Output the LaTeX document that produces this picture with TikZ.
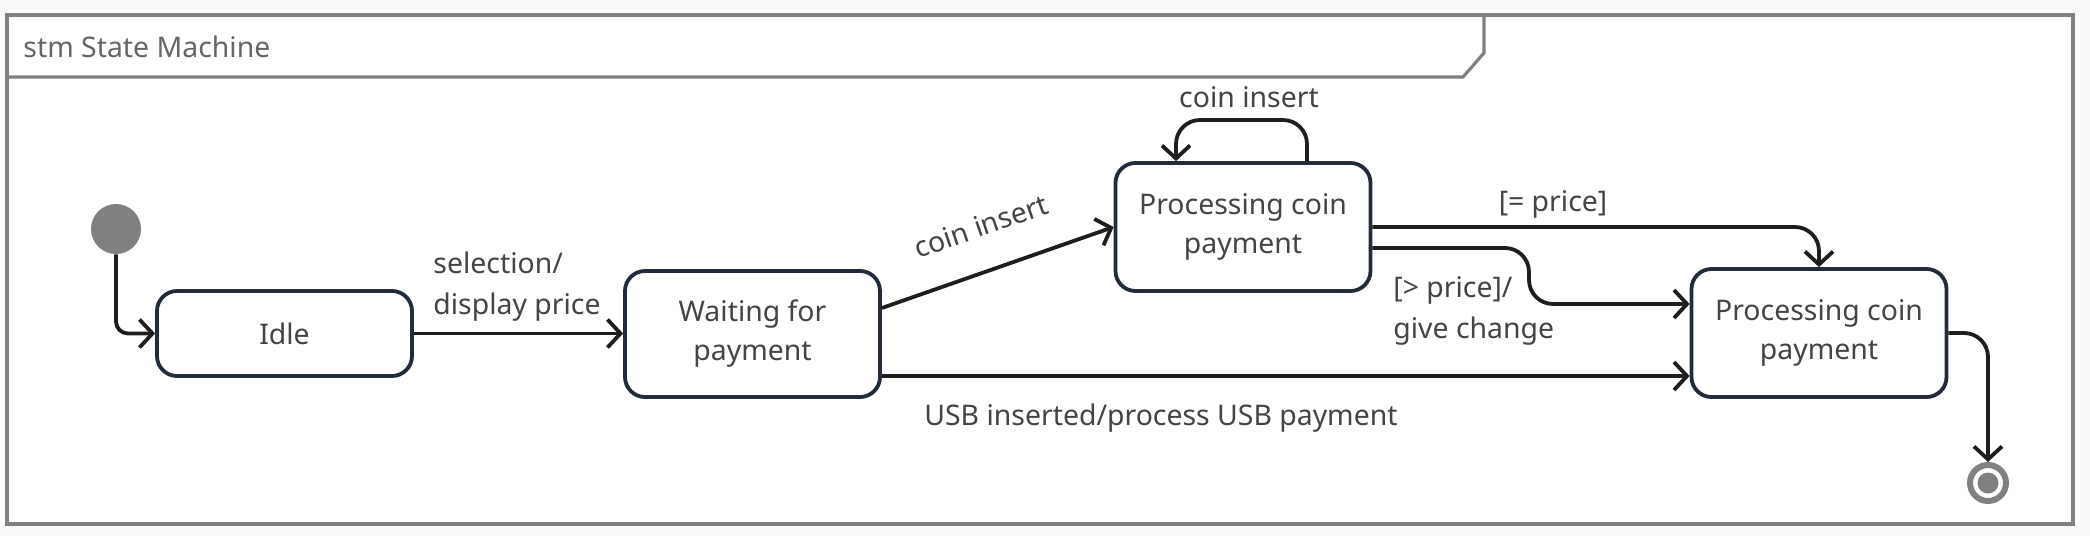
\documentclass[tikz,border=0pt]{standalone}
\usepackage{fontspec}
\setmainfont{Noto Sans}
\usetikzlibrary{arrows.meta,calc}
\definecolor{bgc}{HTML}{F8F9FB}
\definecolor{framec}{HTML}{808080}
\definecolor{statec}{HTML}{222B3A}
\definecolor{linec}{HTML}{1E1E1E}
\definecolor{txtc}{HTML}{444444}
\definecolor{titlec}{HTML}{666666}
\tikzset{
  statebox/.style={draw=statec, line width=1.9pt, fill=white, rounded corners=10pt,
    minimum width=127.5pt, align=center, text=txtc, font=\fontsize{14.2}{19.5}\selectfont},
  trans/.style={draw=linec, line width=1.9pt, rounded corners=6pt,
    -{Straight Barb[length=6.5pt,width=14pt,line width=1.9pt]}},
  lbl/.style={text=txtc, font=\fontsize{14.2}{20.5}\selectfont, align=left, inner sep=0pt},
}
\begin{document}
\begin{tikzpicture}[x=0.5pt,y=-0.5pt]
\useasboundingbox (0,0) rectangle (2090,536);
\fill[bgc] (0,0) rectangle (2090,536);
% frame
\draw[framec, line width=1.6pt, fill=white] (7,15) rectangle (2073,524);
\draw[framec, line width=1.6pt] (7,77) -- (1463,77) -- (1484,53) -- (1484,15);
\node[anchor=west, text=titlec, font=\fontsize{14.2}{16}\selectfont, inner sep=0pt] (title) at (23,47) {stm State Machine};
% states
\node[circle, fill=framec, minimum size=25pt, inner sep=0pt] (init) at (116,229) {};
\node[statebox, minimum height=42.5pt] (idle) at (284.5,333.5) {Idle};
\node[statebox, minimum height=63pt] (wait) at (752.5,334) {Waiting for\\payment};
\node[statebox, minimum height=64pt] (p1) at (1243,227) {Processing coin\\payment};
\node[statebox, minimum height=64pt] (p2) at (1819,333) {Processing coin\\payment};
\node[circle, draw=framec, line width=3pt, minimum size=18pt, inner sep=0pt] (fin) at (1988,483) {};
\node[circle, fill=framec, minimum size=10.5pt, inner sep=0pt] (finin) at (fin.center) {};
% transitions
\draw[trans] (init.south) |- (idle.west);
\draw[trans] (idle.east) -- (wait.west |- idle.east);
\node[lbl, anchor=south west] (l1) at (433,322) {selection/\\display price};
\draw[trans, rounded corners=0pt] (wait.east |- 0,308) -- (p1.west |- 0,227);
\node[lbl, rotate=19] (l2) at (981,226) {coin insert};
\draw[trans, rounded corners=12pt] (p1.north -| 1307,0) |- (1176,120) -- (p1.north -| 1176,0);
\node[lbl] (l3) at (1249,97) {coin insert};
\draw[trans, rounded corners=12pt] (p1.east |- 0,227) -| (p2.north);
\node[lbl] (l4) at (1553,204) {[= price]};
\draw[trans, rounded corners=12pt] (p1.east |- 0,248) -| (1529,304) -- (p2.west |- 0,304);
\node[lbl, anchor=north west] (l5) at (1393,276) {[> price]/\\give change};
\draw[trans] (wait.east |- 0,376) -- (p2.west |- 0,376);
\node[lbl] (l6) at (1161,418) {USB inserted/process USB payment};
\draw[trans, rounded corners=12pt] (p2.east |- 0,333) -| (fin.north);
\end{tikzpicture}
\end{document}
